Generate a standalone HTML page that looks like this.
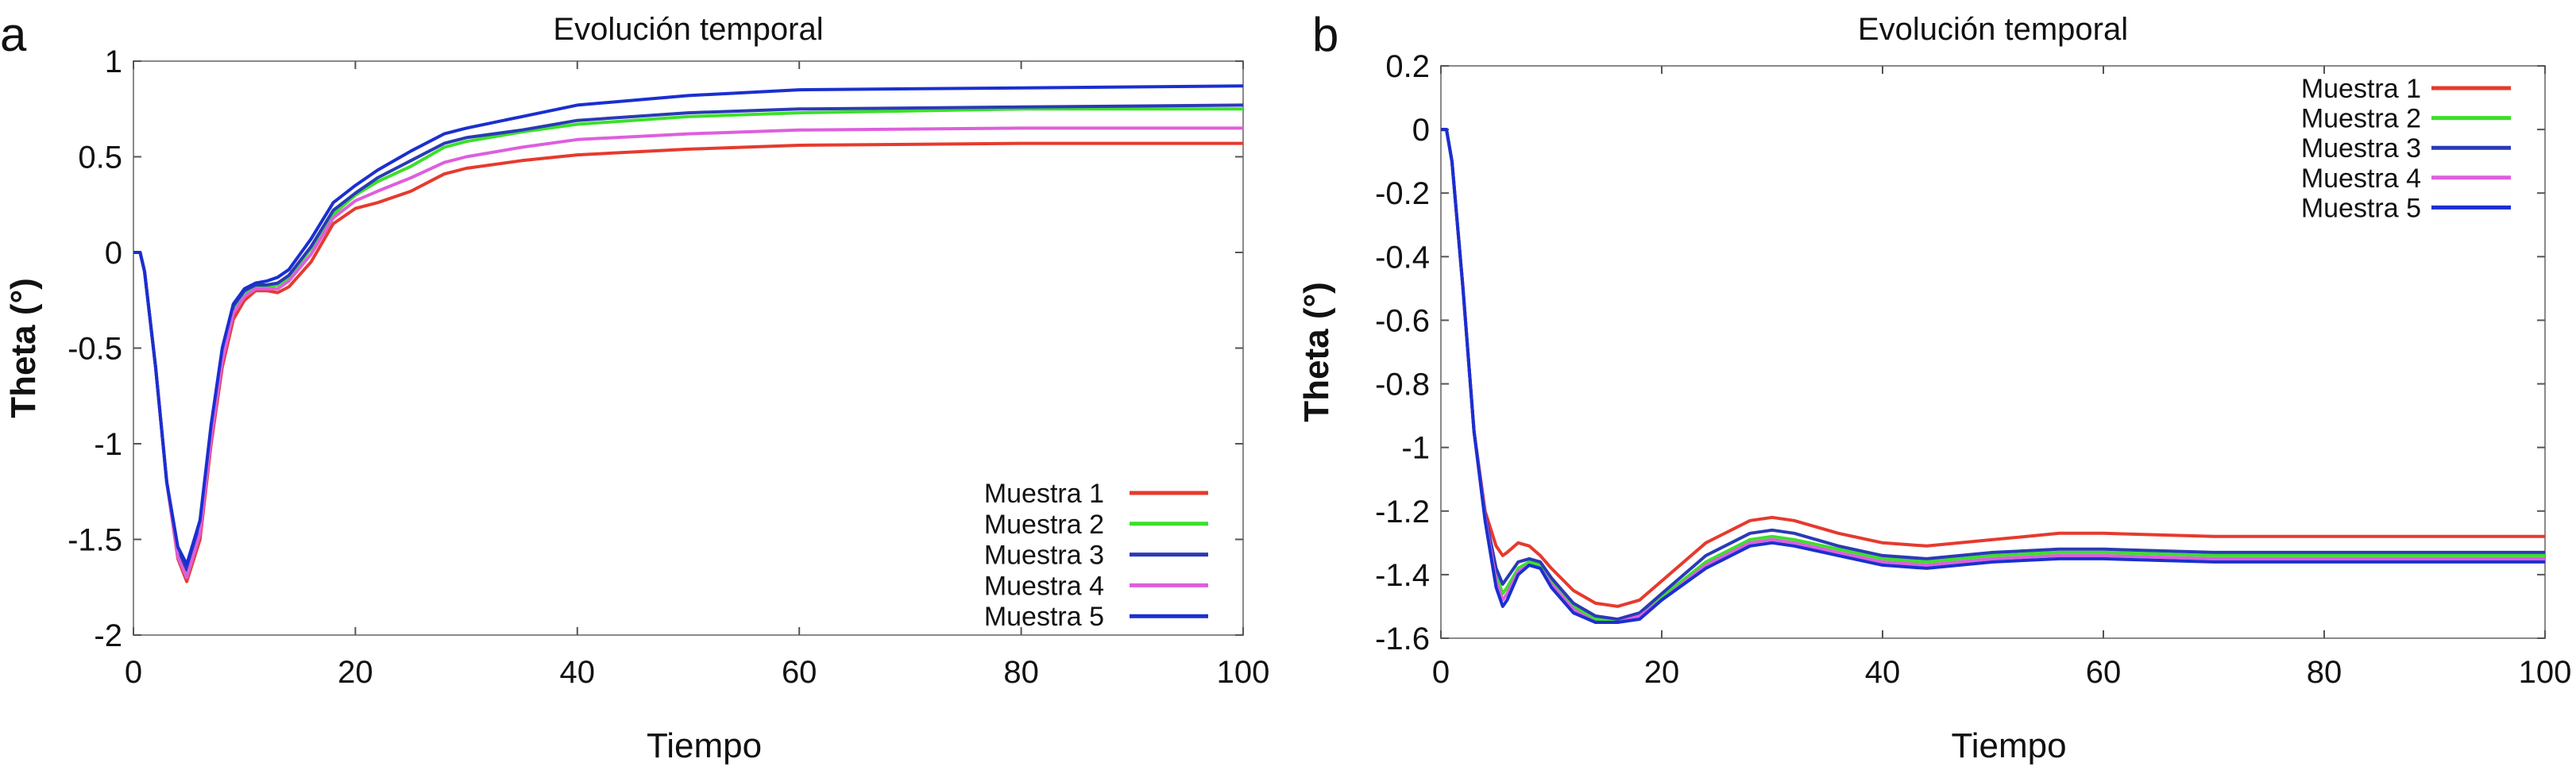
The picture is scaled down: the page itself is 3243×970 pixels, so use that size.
<!DOCTYPE html>
<html><head><meta charset="utf-8"><style>
body{margin:0;background:#fff}
svg text{font-family:"Liberation Sans",sans-serif;fill:#111}
</style></head><body>
<svg id="chart" width="3243" height="965" viewBox="0 0 3243 965" xmlns="http://www.w3.org/2000/svg"></svg>
<script>
const colors=["#e63a2e","#3be02a","#2a3ab5","#dd5fdd","#1a2fd0"];
const names=["Muestra 1","Muestra 2","Muestra 3","Muestra 4","Muestra 5"];
const xTicks=[0,20,40,60,80,100];
const aYTicks=[1,0.5,0,-0.5,-1,-1.5,-2];
const bYTicks=[0.2,0,-0.2,-0.4,-0.6,-0.8,-1,-1.2,-1.4,-1.6];
const aT=[0,0.6,1,2,3,4,4.8,6,7,8,9,10,11,12,13,14,16,18,20,22,25,28,30,35,40,50,60,80,100];
const aM1=[0,0,-0.1,-0.6,-1.2,-1.6,-1.72,-1.5,-1.0,-0.6,-0.35,-0.25,-0.2,-0.2,-0.21,-0.18,-0.05,0.15,0.23,0.26,0.32,0.41,0.44,0.48,0.51,0.54,0.56,0.57,0.57];
const aM2=[0,0,-0.1,-0.6,-1.2,-1.58,-1.68,-1.45,-0.95,-0.55,-0.3,-0.22,-0.18,-0.18,-0.17,-0.13,0.02,0.2,0.3,0.37,0.45,0.55,0.58,0.63,0.67,0.71,0.73,0.75,0.75];
const aM3=[0,0,-0.1,-0.6,-1.2,-1.56,-1.66,-1.42,-0.92,-0.52,-0.28,-0.2,-0.17,-0.17,-0.16,-0.12,0.03,0.22,0.31,0.39,0.48,0.57,0.6,0.64,0.69,0.73,0.75,0.76,0.77];
const aM4=[0,0,-0.1,-0.6,-1.2,-1.59,-1.7,-1.47,-0.97,-0.57,-0.32,-0.23,-0.19,-0.19,-0.19,-0.15,-0.01,0.18,0.27,0.32,0.39,0.47,0.5,0.55,0.59,0.62,0.64,0.65,0.65];
const aM5=[0,0,-0.1,-0.6,-1.2,-1.54,-1.63,-1.4,-0.9,-0.5,-0.27,-0.19,-0.16,-0.15,-0.13,-0.09,0.07,0.26,0.35,0.43,0.53,0.62,0.65,0.71,0.77,0.82,0.85,0.86,0.87];
const bT=[0,0.5,1,2,3,4,5,5.6,6,7,8,9,10,12,14,16,18,20,24,28,30,32,36,40,44,50,56,60,70,80,100];
const bM1=[0,0,-0.1,-0.5,-0.95,-1.2,-1.31,-1.34,-1.33,-1.3,-1.31,-1.34,-1.38,-1.45,-1.49,-1.5,-1.48,-1.42,-1.3,-1.23,-1.22,-1.23,-1.27,-1.3,-1.31,-1.29,-1.27,-1.27,-1.28,-1.28,-1.28];
const bM2=[0,0,-0.1,-0.5,-0.95,-1.22,-1.4,-1.46,-1.44,-1.38,-1.36,-1.37,-1.42,-1.5,-1.54,-1.55,-1.53,-1.47,-1.36,-1.29,-1.28,-1.29,-1.32,-1.35,-1.36,-1.34,-1.33,-1.33,-1.34,-1.34,-1.34];
const bM3=[0,0,-0.1,-0.5,-0.95,-1.21,-1.38,-1.43,-1.41,-1.36,-1.35,-1.36,-1.41,-1.49,-1.53,-1.54,-1.52,-1.46,-1.34,-1.27,-1.26,-1.27,-1.31,-1.34,-1.35,-1.33,-1.32,-1.32,-1.33,-1.33,-1.33];
const bM4=[0,0,-0.1,-0.5,-0.95,-1.22,-1.42,-1.48,-1.46,-1.39,-1.37,-1.38,-1.43,-1.51,-1.55,-1.55,-1.53,-1.48,-1.37,-1.3,-1.29,-1.3,-1.33,-1.36,-1.37,-1.35,-1.34,-1.34,-1.35,-1.35,-1.35];
const bM5=[0,0,-0.1,-0.5,-0.95,-1.23,-1.44,-1.5,-1.48,-1.4,-1.37,-1.38,-1.44,-1.52,-1.55,-1.55,-1.54,-1.48,-1.38,-1.31,-1.3,-1.31,-1.34,-1.37,-1.38,-1.36,-1.35,-1.35,-1.36,-1.36,-1.36];

const svg=document.getElementById('chart');
const NS="http://www.w3.org/2000/svg";
function mk(tag,attrs,parent){const e=document.createElementNS(NS,tag);for(const k in attrs)e.setAttribute(k,attrs[k]);(parent||svg).appendChild(e);return e;}
function txt(s,attrs,parent){const e=mk('text',attrs,parent);e.textContent=s;return e;}

function panel(cfg){
  const g=mk('g',{});
  
  
  const {L,R,T,B,ymin,ymax}=cfg;
  const sx=v=>L+(v/100)*(R-L);
  const sy=v=>B-(v-ymin)/(ymax-ymin)*(B-T);
  const frame=mk('rect',{x:L,y:T,width:R-L,height:B-T,fill:'none',stroke:'#8a8a8a','stroke-width':2},g);
  
  
  xTicks.forEach(v=>{
    mk('line',{x1:sx(v),x2:sx(v),y1:B,y2:B-10,stroke:'#555','stroke-width':2},g);
    mk('line',{x1:sx(v),x2:sx(v),y1:T,y2:T+10,stroke:'#555','stroke-width':2},g);
    const t=txt(String(v),{x:sx(v),y:860,'font-size':40,'text-anchor':'middle'},g);
    
    
  });
  cfg.yTicks.forEach(v=>{
    mk('line',{x1:L,x2:L+10,y1:sy(v),y2:sy(v),stroke:'#555','stroke-width':2},g);
    mk('line',{x1:R,x2:R-10,y1:sy(v),y2:sy(v),stroke:'#555','stroke-width':2},g);
    const t=txt(String(v),{x:L-14,y:sy(v)+14,'font-size':40,'text-anchor':'end'},g);
    
    
  });
  cfg.series.forEach((s,i)=>{
    const pts=cfg.t.map((tv,j)=>sx(tv).toFixed(1)+','+sy(s[j]).toFixed(1)).join(' ');
    const p=mk('polyline',{points:pts,fill:'none',stroke:colors[i],'stroke-width':4,'stroke-linejoin':'round'},g);
    
    
  });
  const tl=txt('Evolución temporal',{x:(L+R)/2,y:50,'font-size':40,'text-anchor':'middle'},g);
  
  
  const xl=txt('Tiempo',{x:(L+R)/2+20,y:954,'font-size':44,'text-anchor':'middle'},g);
  
  
  const yl=txt('Theta (°)',{x:0,y:0,'font-size':44,'font-weight':'bold','text-anchor':'middle',transform:`translate(${cfg.ylx},${(T+B)/2}) rotate(-90)`},g);
  
  
  const pl=txt(cfg.id,{x:cfg.plx,y:64,'font-size':60},g);
  
  
  names.forEach((n,i)=>{
    const y=cfg.legY+i*cfg.legDy;
    const lt=txt(n,{x:cfg.legTx,y:y+12,'font-size':34,'text-anchor':'end'},g);
    
    
    const ll=mk('line',{x1:cfg.legL1,x2:cfg.legL2,y1:y,y2:y,stroke:colors[i],'stroke-width':5},g);
    
    
  });
}
panel({id:'a',L:168,R:1565,T:77,B:800,ymin:-2,ymax:1,yTicks:aYTicks,t:aT,series:[aM1,aM2,aM3,aM4,aM5],
  ylx:44,plx:0,legY:621,legDy:38.8,legTx:1390,legL1:1422,legL2:1521});
panel({id:'b',L:1814,R:3204,T:83,B:804,ymin:-1.6,ymax:0.2,yTicks:bYTicks,t:bT,series:[bM1,bM2,bM3,bM4,bM5],
  ylx:1672,plx:1652,legY:111,legDy:37.6,legTx:3048,legL1:3061,legL2:3161});
</script>
</body></html>
